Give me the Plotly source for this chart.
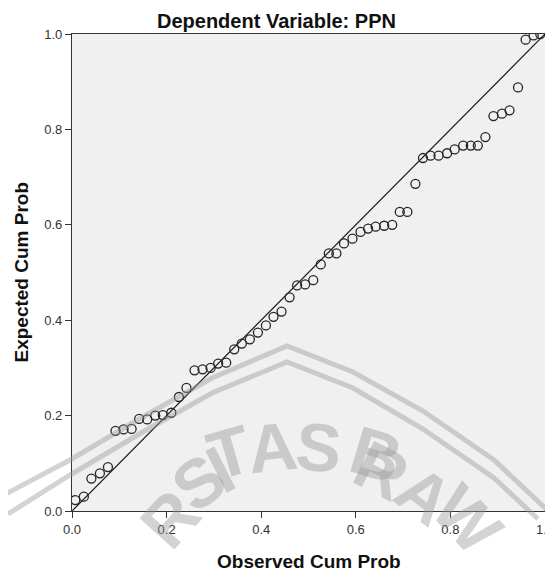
import plotly.graph_objects as go

# Data
observed_cum_prob = [0.007, 0.025, 0.041, 0.059, 0.076, 0.092, 0.109, 0.126, 0.142, 0.159,
                     0.176, 0.192, 0.210, 0.226, 0.242, 0.259, 0.276, 0.293, 0.309, 0.326,
                     0.343, 0.359, 0.376, 0.393, 0.410, 0.426, 0.443, 0.460, 0.476, 0.493,
                     0.510, 0.526, 0.543, 0.559, 0.575, 0.593, 0.610, 0.626, 0.642, 0.660,
                     0.677, 0.693, 0.709, 0.726, 0.742, 0.758, 0.775, 0.793, 0.809, 0.827,
                     0.843, 0.858, 0.874, 0.891, 0.909, 0.925, 0.943, 0.959, 0.976, 0.990]
expected_cum_prob = [0.023, 0.030, 0.068, 0.079, 0.092, 0.168, 0.171, 0.172, 0.193, 0.192,
                     0.200, 0.201, 0.206, 0.239, 0.258, 0.295, 0.297, 0.300, 0.309, 0.311,
                     0.339, 0.351, 0.360, 0.374, 0.389, 0.407, 0.418, 0.448, 0.473, 0.475,
                     0.484, 0.517, 0.540, 0.540, 0.561, 0.571, 0.585, 0.592, 0.596, 0.598,
                     0.600, 0.627, 0.627, 0.686, 0.740, 0.745, 0.745, 0.750, 0.758, 0.766,
                     0.766, 0.766, 0.784, 0.828, 0.833, 0.840, 0.888, 0.988, 0.997, 1.000]
ref_line = [0.0, 1.0]
tick_vals = [0.0, 0.2, 0.4, 0.6, 0.8, 1.0]
tick_text = ["0.0", "0.2", "0.4", "0.6", "0.8", "1.0"]

# The page body has an 8px default margin, so the figure is sized to fill the
# remaining viewport; screen positions below are converted with that offset.
OFF = 8
W, H = 553 - OFF, 571 - OFF
PLOT_L, PLOT_R, PLOT_T, PLOT_B = 72, 545, 34, 511   # screen pixels
L, R, T, B = PLOT_L - OFF, 553 - PLOT_R, PLOT_T - OFF, 571 - PLOT_B
PW, PH = PLOT_R - PLOT_L, PLOT_B - PLOT_T


def px(X):
    return (X - PLOT_L) / PW


def py(Y):
    return (PLOT_B - Y) / PH


FONT = "Liberation Sans, Arial, sans-serif"

fig = go.Figure()
fig.add_trace(go.Scatter(x=ref_line, y=ref_line, mode="lines",
                         line=dict(color="#1a1a1a", width=1.2),
                         hoverinfo="skip", showlegend=False))
fig.add_trace(go.Scatter(x=observed_cum_prob, y=expected_cum_prob, mode="markers",
                         marker=dict(symbol="circle-open", size=9, color="#262626",
                                     line=dict(width=1.3)),
                         showlegend=False))

# watermark (decorative, from the scanned document)
wm_col = "rgba(150,150,150,0.42)"
outer = [(0, 497), (70, 460), (141, 418), (212, 378), (287, 346), (353, 372),
         (423, 411), (494, 460), (545, 508), (553, 516)]
inner = [(8, 514), (70, 475), (141, 433), (212, 393), (287, 362), (353, 388),
         (423, 429), (494, 478), (538, 519)]
shapes = []
for pts in (outer, inner):
    d = "M " + " L ".join(f"{px(a):.4f},{py(b):.4f}" for a, b in pts)
    shapes.append(dict(type="path", path=d, xref="paper", yref="paper",
                       line=dict(color=wm_col, width=5), layer="above"))

letters = [("R", 122, 565, -48), ("S", 155, 529, -38), ("I", 192, 510, -27),
           ("T", 230, 497, -16), ("A", 272, 490, -6), ("S", 318, 489, 5),
           ("B", 376, 500, 17), ("R", 423, 518, 27), ("A", 470, 543, 37),
           ("W", 520, 572, 47)]
annotations = []
for ch, X, Y, ang in letters:
    annotations.append(dict(text=f"<b>{ch}</b>", x=px(X), y=py(Y), xref="paper",
                            yref="paper", showarrow=False, textangle=ang,
                            font=dict(family=FONT, size=68, color=wm_col)))

annotations += [
    dict(text="<b>Dependent Variable: PPN</b>", x=px(276), y=py(21), xref="paper",
         yref="paper", showarrow=False, xanchor="center", yanchor="middle",
         font=dict(family=FONT, size=20, color="#111")),
    dict(text="<b>Observed Cum Prob</b>", x=0.5, y=py(561), xref="paper",
         yref="paper", showarrow=False, xanchor="center", yanchor="middle",
         font=dict(family=FONT, size=19, color="#111")),
    dict(text="<b>Expected Cum Prob</b>", x=px(21), y=0.5, xref="paper",
         yref="paper", showarrow=False, xanchor="center", yanchor="middle",
         textangle=-90, font=dict(family=FONT, size=19, color="#111")),
]

axis_common = dict(range=[0, 1], tickvals=tick_vals, ticktext=tick_text,
                   ticks="outside", ticklen=6, tickwidth=1, tickcolor="#333",
                   showline=True, linecolor="#333", linewidth=1.3, mirror=True,
                   showgrid=False, zeroline=False, ticklabeloverflow="allow",
                   automargin=False,
                   tickfont=dict(family=FONT, size=13, color="#333"))

fig.update_layout(
    width=W, height=H,
    margin=dict(l=L, r=R, t=T, b=B, pad=0, autoexpand=False),
    paper_bgcolor="white", plot_bgcolor="#f0f0f0",
    xaxis=axis_common, yaxis=axis_common,
    shapes=shapes, annotations=annotations,
    showlegend=False,
)

fig.write_html("out.html")
